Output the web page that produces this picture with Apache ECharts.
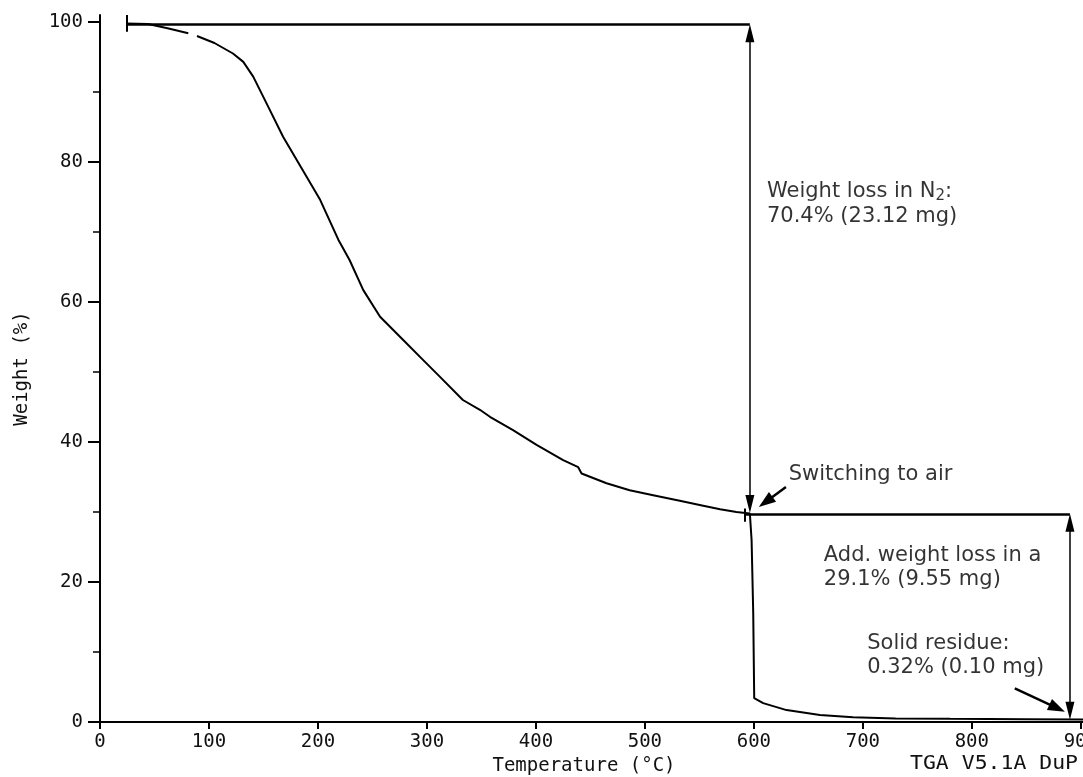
<!DOCTYPE html>
<html>
<head>
<meta charset="utf-8">
<title>TGA weight loss</title>
<script src="https://cdn.jsdelivr.net/npm/echarts@6/dist/echarts.min.js"></script>
<style>
  html, body { margin: 0; padding: 0; background: #fff; }
  #main { width: 1083px; height: 777px; }
</style>
</head>
<body>
<div id="main"></div>
<script>
// TGA curve ('-' = gap in the plotter trace)
var tempC = [24, 44, 62, 81, 85, 89, 105, 122, 131.5, 140.6, 155, 168, 185, 202, 218.7, 229, 241.6, 257, 278, 296.6, 312, 333, 348.6, 357.8, 379, 400.6, 425, 438.8, 441.9, 464.8, 486, 507.6, 532, 553.5, 569, 584, 596.3, 597.9, 599.4, 600.3, 608.5, 630, 660.6, 691, 730, 780, 850, 902];
var weightPct = [99.8, 99.7, 99.1, 98.4, '-', 98.0, 97.0, 95.5, 94.3, 92.2, 87.7, 83.6, 79.1, 74.6, 68.9, 66.0, 61.7, 57.9, 54.6, 51.7, 49.3, 46.0, 44.6, 43.6, 41.7, 39.6, 37.4, 36.4, 35.5, 34.1, 33.1, 32.4, 31.6, 30.9, 30.4, 30.0, 29.8, 26.0, 15.6, 3.4, 2.7, 1.7, 1.0, 0.67, 0.5, 0.45, 0.4, 0.35];

// axis ticks
var xTicks = [0, 100, 200, 300, 400, 500, 600, 700, 800, 900];
var yTicks = [0, 20, 40, 60, 80, 100];
var yMinorTicks = [10, 30, 50, 70, 90];

// annotation texts and their anchors (data units)
var noteText = [
  'Weight loss in N{s|2}:\n70.4% (23.12 mg)',
  'Switching to air',
  'Add. weight loss in a\n29.1% (9.55 mg)',
  'Solid residue:\n0.32% (0.10 mg)'
];
var noteX = [612, 632, 664.2, 704];
var noteY = [74.0, 35.4, 22.1, 9.5];

var n2Level = 99.7, airLevel = 29.75, residueLevel = 0.3;
var n2Switch = 596.3, airStart = 591.7, airEnd = 890;
var headY = 1.3; // half arrow length in weight units, so the tip lands on the level

var curve = tempC.map(function(t, i) { return [t, weightPct[i]]; });
var notes = noteX.map(function(x, i) { return [x, noteY[i]]; });

var mono = 'DejaVu Sans Mono';
var sans = 'DejaVu Sans';

// 箭头两端
function arrowBoth(x1, y1, x2, y2, w) {
  return [
    { coord: [x1, y1], symbol: 'triangle', symbolSize: [9, 18], lineStyle: { width: w } },
    { coord: [x2, y2], symbol: 'triangle', symbolSize: [9, 18] }
  ];
}
function arrowEnd(x1, y1, x2, y2, w) {
  return [
    { coord: [x1, y1], symbol: 'none', lineStyle: { width: w } },
    { coord: [x2, y2], symbol: 'triangle', symbolSize: [12, 17] }
  ];
}
function plain(x1, y1, x2, y2, w) {
  return [
    { coord: [x1, y1], symbol: 'none', lineStyle: { width: w } },
    { coord: [x2, y2], symbol: 'none' }
  ];
}

var myChart = echarts.init(document.getElementById('main'));

var option = {
  backgroundColor: '#fff',
  animation: false,
  grid: { left: 100, top: 15, width: 983, height: 707, outerBoundsMode: 'none', containLabel: false },
  xAxis: [{
    type: 'value',
    min: 0, max: 902,
    interval: 100,
    name: 'Temperature (°C)',
    nameLocation: 'middle',
    nameGap: 32,
    nameTextStyle: { fontFamily: mono, fontSize: 19, color: '#111', padding: [0, 15, 0, 0] },
    axisLine: { show: true, onZero: false, lineStyle: { color: '#000', width: 2 } },
    axisTick: { show: true, inside: false, length: 7, customValues: xTicks, lineStyle: { color: '#000', width: 2 } },
    axisLabel: { customValues: xTicks, margin: 11, fontFamily: mono, fontSize: 19, color: '#111' },
    splitLine: { show: false }
  }, {
    type: 'value',
    position: 'top',
    min: 0, max: 902,
    interval: 100,
    axisLine: { show: true, lineStyle: { color: '#000', width: 2 } },
    axisTick: { show: true, inside: true, length: 3, customValues: xTicks, lineStyle: { color: '#000', width: 1 } },
    axisLabel: { show: false },
    splitLine: { show: false }
  }],
  yAxis: [{
    type: 'value',
    min: 0, max: 101,
    name: 'Weight (%)',
    nameLocation: 'middle',
    nameGap: 68,
    nameTextStyle: { fontFamily: mono, fontSize: 19, color: '#111' },
    axisLine: { show: true, onZero: false, lineStyle: { color: '#000', width: 2 } },
    axisTick: { show: true, inside: false, length: 12, customValues: yTicks, lineStyle: { color: '#000', width: 2 } },
    axisLabel: { customValues: yTicks, margin: 17, fontFamily: mono, fontSize: 19, color: '#111' },
    splitLine: { show: false }
  }, {
    type: 'value',
    position: 'left',
    offset: 0,
    min: 0, max: 101,
    axisLine: { show: false },
    axisTick: { show: true, inside: false, length: 7, customValues: yMinorTicks, lineStyle: { color: '#000', width: 1.5 } },
    axisLabel: { show: false },
    splitLine: { show: false }
  }],
  series: [{
    name: 'Weight',
    type: 'line',
    data: curve,
    showSymbol: false,
    connectNulls: false,
    lineStyle: { color: '#000', width: 2 },
    markLine: {
      silent: true,
      animation: false,
      label: { show: false },
      emphasis: { disabled: true },
      lineStyle: { color: '#000', type: 'solid', width: 2 },
      itemStyle: { color: '#000' },
      data: [
        plain(24, n2Level, n2Switch, n2Level, 2.5),
        arrowBoth(n2Switch, n2Level - headY, n2Switch, 29.85 + headY, 1.5),
        plain(airStart, airLevel, airEnd, airLevel, 2.5),
        arrowBoth(airEnd, airLevel - headY, airEnd, residueLevel + headY, 1.5),
        arrowEnd(629.4, 33.57, 610.8, 31.44, 2.5),
        arrowEnd(839.4, 4.81, 878.3, 1.99, 2.5),
        plain(24.5, 101, 24.5, 98.6, 2),
        plain(airStart, 30.5, airStart, 28.6, 2)
      ]
    }
  }, {
    name: 'notes',
    type: 'scatter',
    data: notes,
    symbolSize: 0,
    silent: true,
    label: {
      show: true,
      position: 'right',
      distance: 0,
      formatter: function(p) { return noteText[p.dataIndex]; },
      fontFamily: sans,
      fontSize: 21,
      lineHeight: 24.5,
      color: '#000',
      rich: {
        s: { fontFamily: sans, fontSize: 15, lineHeight: 17, verticalAlign: 'bottom', color: '#000' }
      }
    }
  }],
  graphic: [{
    type: 'text',
    x: 910,
    y: 755,
    scaleX: 1.13,
    style: { text: 'TGA V5.1A DuP', font: '19px "DejaVu Sans Mono"', fill: '#111' }
  }]
};

myChart.setOption(option);
</script>
</body>
</html>
